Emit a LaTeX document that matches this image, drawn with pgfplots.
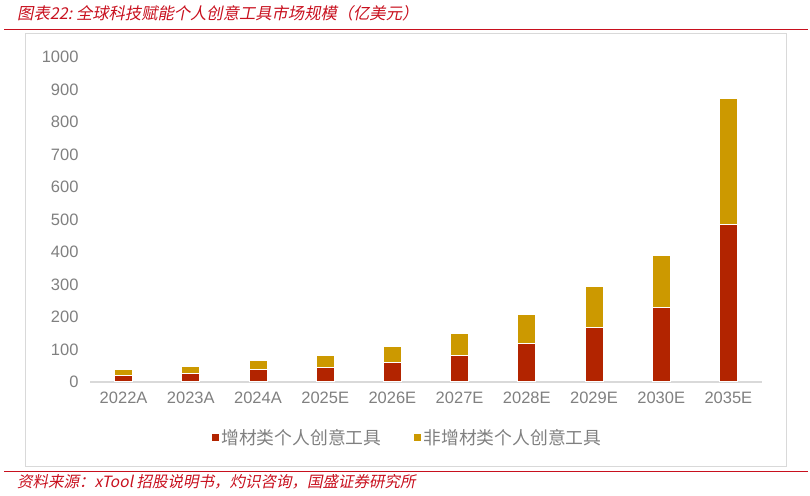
\documentclass[border=0pt]{standalone}
\usepackage{fontspec}
\setmainfont{Liberation Sans}
\newfontfamily\cjk{Noto Sans CJK SC}
\newfontfamily\cjkit{Noto Sans CJK SC}[FakeSlant=0.2]
\usepackage{pgfplots}
\pgfplotsset{compat=1.18}
\definecolor{barred}{RGB}{178,36,0}
\definecolor{bargold}{RGB}{204,153,0}
\definecolor{titlered}{RGB}{200,16,30}
\definecolor{tickgray}{RGB}{128,128,128}
\definecolor{boxgray}{RGB}{217,217,217}
\begin{document}
\begin{tikzpicture}
\path[use as bounding box] (0pt,0pt) rectangle (810pt,495pt);
% header and footer
\node[anchor=west, text=titlered, inner sep=0pt] at (17pt,482pt)
  {\fontsize{16.3}{18}\cjkit 图表22:\ 全球科技赋能个人创意工具市场规模（亿美元）};
\draw[titlered, line width=1pt] (4pt,465pt) -- (808pt,465pt);
\draw[boxgray, line width=1pt] (25pt,29pt) rectangle (786pt,461pt);
\draw[titlered, line width=1pt] (4pt,24pt) -- (808pt,24pt);
\node[anchor=west, text=titlered, inner sep=0pt] at (17pt,13pt)
  {\fontsize{15.5}{17}\cjkit 资料来源：xTool 招股说明书，灼识咨询，国盛证券研究所};
\begin{axis}[
  at={(90pt,113pt)}, anchor=south west,
  scale only axis,
  width=672pt, height=325pt,
  ybar stacked,
  bar width=18pt,
  xmin=-0.5, xmax=9.5,
  ymin=0, ymax=1000,
  xtick={0,...,9},
  xticklabels={2022A,2023A,2024A,2025E,2026E,2027E,2028E,2029E,2030E,2035E},
  ytick={0,100,...,1000},
  axis x line*=bottom,
  axis y line*=left,
  x axis line style={draw=boxgray, line width=1.5pt, -},
  y axis line style={draw=none},
  major tick length=0pt,
  tick label style={font=\fontsize{16.5}{18}\selectfont, text=tickgray},
  yticklabel style={/pgf/number format/assume math mode=true, /pgf/number format/1000 sep={}},
  yticklabel style={xshift=-8pt},
  xticklabel style={yshift=-6pt},
  legend columns=2,
  legend style={draw=none, fill=none, at={(rel axis cs:0.473,-0.172)}, anchor=center,
    font=\fontsize{17.8}{19}\cjk, text=tickgray,
    /tikz/every even column/.append style={column sep=31pt}},
  legend image code/.code={\fill[#1, draw=none] (0pt,-3.5pt) rectangle (7pt,3.5pt);},
]
\addplot[fill=barred, draw=white, line width=1pt] coordinates {
  (0,19) (1,27) (2,39) (3,46) (4,61) (5,82) (6,119) (7,169) (8,228) (9,486)};
\addplot[fill=bargold, draw=white, line width=1pt] coordinates {
  (0,18) (1,22) (2,27) (3,34) (4,47) (5,66) (6,90) (7,125) (8,162) (9,385)};
\legend{增材类个人创意工具, 非增材类个人创意工具}
\end{axis}
\end{tikzpicture}
\end{document}
